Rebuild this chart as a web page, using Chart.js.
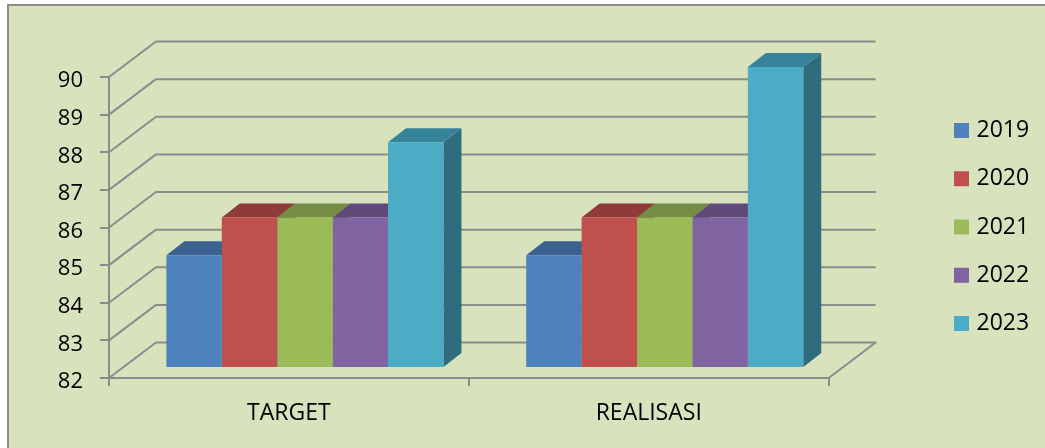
<!DOCTYPE html>
<html>
<head>
<meta charset="utf-8">
<title>Target dan Realisasi</title>
<script src="https://cdn.jsdelivr.net/npm/chart.js@4/dist/chart.umd.min.js"></script>
<style>
    html, body { margin: 0; padding: 0; background: #fff; overflow: hidden; }
    #frame {
        position: absolute; left: 7px; top: 4px; right: 0; bottom: 0;
        background: #d8e3bd;
        border-left: 2px solid #8c8c8c;
        border-top: 2px solid #8c8c8c;
    }
    #chart { position: absolute; left: 0; top: 0; }
</style>
</head>
<body>
<div id="frame"></div>
<canvas id="chart" width="1045" height="448"></canvas>
<script>
// Data
const categories = ['TARGET', 'REALISASI'];
const years = ['2019', '2020', '2021', '2022', '2023'];
const values2019 = [85, 85];
const values2020 = [86, 86];
const values2021 = [86, 86];
const values2022 = [86, 86];
const values2023 = [88, 90];
const axisMin = 82;
const axisMax = 90;

// Bar face colours
const frontColors = ['#4f81bd', '#c0504d', '#9bbb59', '#8064a2', '#4bacc6'];
const topColors = ['#3b6191', '#8f3b39', '#748c43', '#5f4a79', '#37839a'];
const sideColors = ['#2f4d72', '#72302e', '#5c7035', '#4c3b61', '#2f6c7e'];

const gridColor = '#8c8c8c';
const font = 'Open Sans';

// Back wall offset from the axis plane, and bar offset / bar depth
const wall = { dx: 47, dy: -35.5 };
const barShift = { dx: 16, dy: -10 };
const barDepth = { dx: 18, dy: -14 };

function fillFace(ctx, points, color) {
    ctx.beginPath();
    points.forEach((p, i) => (i ? ctx.lineTo(p[0], p[1]) : ctx.moveTo(p[0], p[1])));
    ctx.closePath();
    ctx.fillStyle = color;
    ctx.fill();
}

// Fake 3D: back wall, floor, and the top and side faces of the bars
const depthPlugin = {
    id: 'depth',
    afterLayout(chart) {
        // move the legend to the right of the back wall
        const legend = chart.legend;
        const padding = legend.options.labels.padding;
        legend.left = 958 - padding;
        legend.right = 1045;
        legend.top = 130.5 - padding - 11.5;
        legend.bottom = 448;
    },
    beforeDatasetsDraw(chart) {
        const { ctx, chartArea, scales } = chart;
        const left = chartArea.left;
        const right = chartArea.right;
        ctx.save();
        ctx.strokeStyle = gridColor;
        ctx.lineWidth = 2;
        ctx.lineJoin = 'round';
        for (let v = axisMin; v <= axisMax; v++) {
            const y = scales.y.getPixelForValue(v);
            ctx.beginPath();
            ctx.moveTo(left, y);
            ctx.lineTo(left + wall.dx, y + wall.dy);
            ctx.lineTo(right + wall.dx, y + wall.dy);
            if (v === axisMin) ctx.lineTo(right, y);
            ctx.stroke();
        }
        ctx.restore();

        // bars are set back from the axis plane; restored in afterDatasetsDraw
        ctx.save();
        ctx.translate(barShift.dx, barShift.dy);
        chart.data.datasets.forEach((ds, d) => {
            chart.getDatasetMeta(d).data.forEach(bar => {
                const x0 = bar.x - bar.width / 2;
                const x1 = bar.x + bar.width / 2;
                const y0 = bar.y;
                const y1 = bar.base;
                fillFace(ctx, [[x1, y0], [x1 + barDepth.dx, y0 + barDepth.dy],
                    [x1 + barDepth.dx, y1 + barDepth.dy], [x1, y1]], sideColors[d]);
                fillFace(ctx, [[x0, y0], [x0 + barDepth.dx, y0 + barDepth.dy],
                    [x1 + barDepth.dx, y0 + barDepth.dy], [x1, y0]], topColors[d]);
            });
        });
    },
    afterDatasetsDraw(chart) {
        chart.ctx.restore();
    }
};

const seriesValues = [values2019, values2020, values2021, values2022, values2023];

new Chart(document.getElementById('chart'), {
    type: 'bar',
    data: {
        labels: categories,
        datasets: years.map((year, i) => ({
            label: year,
            data: seriesValues[i],
            base: axisMin,
            backgroundColor: frontColors[i],
            borderWidth: 0,
            clip: false
        }))
    },
    options: {
        responsive: false,
        animation: false,
        devicePixelRatio: 1,
        layout: { padding: { top: 77, left: 0, right: 110, bottom: 0 } },
        datasets: { bar: { categoryPercentage: 0.77, barPercentage: 1 } },
        plugins: {
            tooltip: { enabled: false },
            legend: {
                position: 'right',
                align: 'start',
                labels: {
                    color: '#000',
                    font: { family: font, size: 23 },
                    usePointStyle: true,
                    pointStyle: 'rect',
                    boxWidth: 7,
                    boxHeight: 15,
                    padding: 25.25
                }
            }
        },
        scales: {
            x: {
                afterFit(scale) { scale.height = 70; },
                border: { color: gridColor, width: 2 },
                grid: { drawOnChartArea: false, color: gridColor, lineWidth: 2, tickLength: 8 },
                ticks: { color: '#000', font: { family: font, size: 23 }, padding: 14, maxRotation: 0 }
            },
            y: {
                min: axisMin,
                max: axisMax,
                afterFit(scale) { scale.width = 109; },
                border: { color: gridColor, width: 2 },
                grid: { drawOnChartArea: false, color: gridColor, lineWidth: 2, tickLength: 9 },
                ticks: { color: '#000', font: { family: font, size: 22 }, stepSize: 1, padding: 17, labelOffset: 4 }
            }
        }
    },
    plugins: [depthPlugin]
});
</script>
</body>
</html>
